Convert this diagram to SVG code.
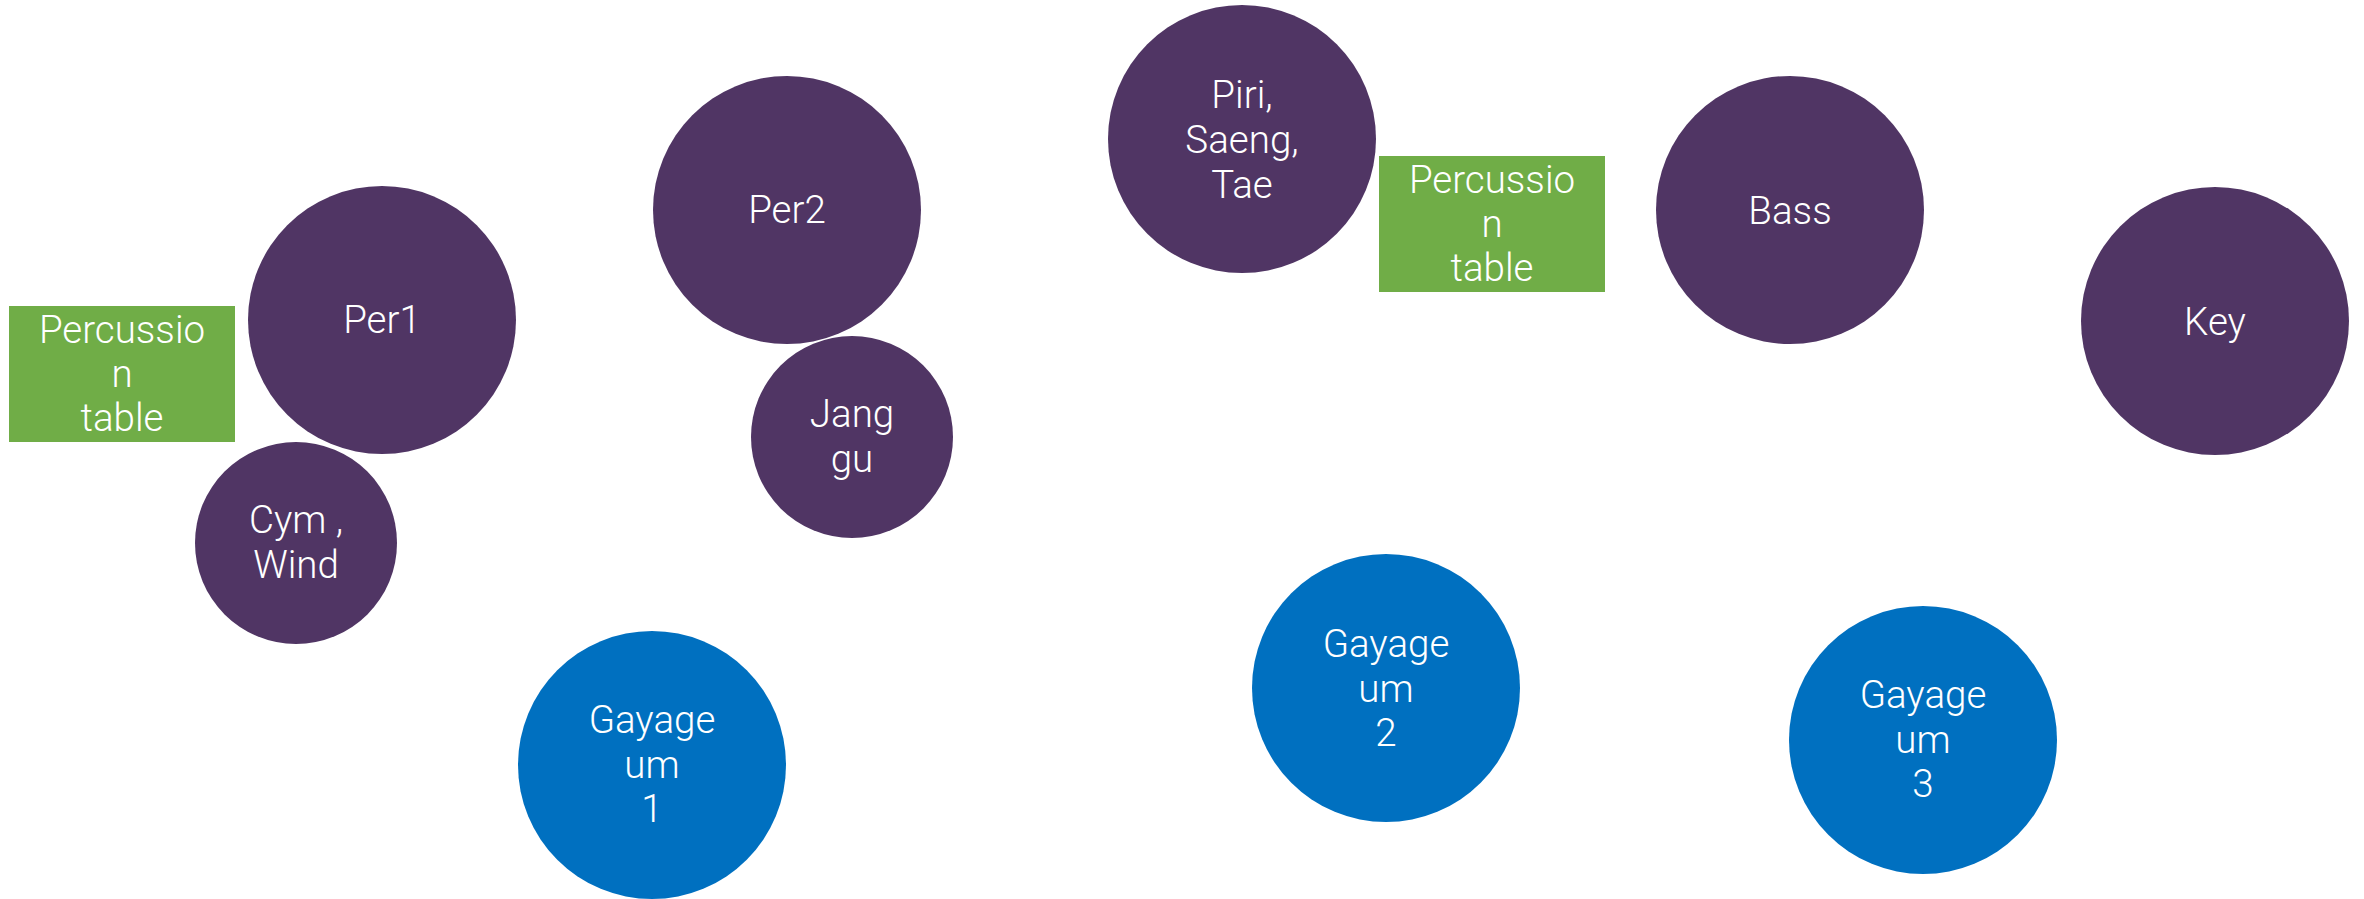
<svg xmlns="http://www.w3.org/2000/svg" width="2364" height="899" viewBox="0 0 2364 899">
<style>
.p{fill:#503564}
.b{fill:#0070C0}
.g{fill:#70AD47}
text{font-family:"Roboto","Liberation Sans",sans-serif;font-weight:300;font-size:38.5px;fill:#ffffff;text-anchor:middle}
</style>
<rect width="2364" height="899" fill="#ffffff"/>
<g id="connectors"></g>
<g id="table1"><rect class="g" x="9" y="306" width="226" height="136"/><text x="122" y="343">Percussio</text><text x="122" y="387">n</text><text x="122" y="431">table</text></g>
<g id="per1"><circle class="p" cx="382" cy="320" r="134"/><text x="382" y="333">Per1</text></g>
<g id="cymwind"><circle class="p" cx="296" cy="543" r="101"/><text x="296" y="533">Cym ,</text><text x="296" y="578">Wind</text></g>
<g id="per2"><circle class="p" cx="787" cy="210" r="134"/><text x="787" y="223">Per2</text></g>
<g id="janggu"><circle class="p" cx="852" cy="437" r="101"/><text x="852" y="427">Jang</text><text x="852" y="472">gu</text></g>
<g id="piri"><circle class="p" cx="1242" cy="139" r="134"/><text x="1242" y="108">Piri,</text><text x="1242" y="153">Saeng,</text><text x="1242" y="198">Tae</text></g>
<g id="table2"><rect class="g" x="1379" y="156" width="226" height="136"/><text x="1492" y="193">Percussio</text><text x="1492" y="237">n</text><text x="1492" y="281">table</text></g>
<g id="bass"><circle class="p" cx="1790" cy="210" r="134"/><text x="1790" y="224">Bass</text></g>
<g id="key"><circle class="p" cx="2215" cy="321" r="134"/><text x="2215" y="335">Key</text></g>
<g id="gayageum1"><circle class="b" cx="652" cy="765" r="134"/><text x="652" y="733">Gayage</text><text x="652" y="778">um</text><text x="652" y="822">1</text></g>
<g id="gayageum2"><circle class="b" cx="1386" cy="688" r="134"/><text x="1386" y="657">Gayage</text><text x="1386" y="702">um</text><text x="1386" y="746">2</text></g>
<g id="gayageum3"><circle class="b" cx="1923" cy="740" r="134"/><text x="1923" y="708">Gayage</text><text x="1923" y="753">um</text><text x="1923" y="797">3</text></g>
</svg>
